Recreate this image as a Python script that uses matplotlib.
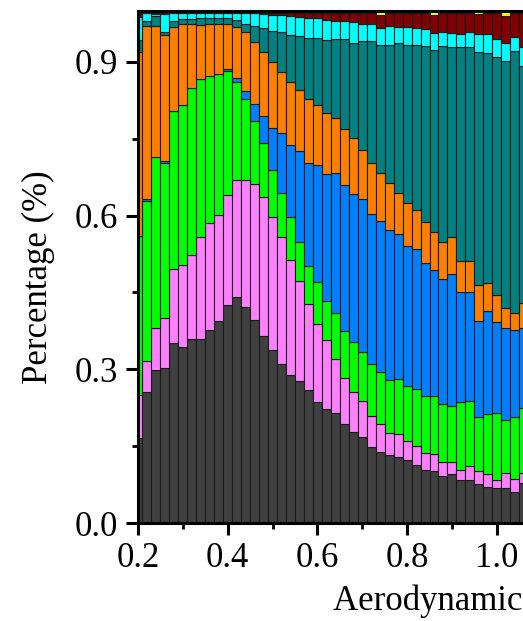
import numpy as np
import matplotlib
matplotlib.use("Agg")
import matplotlib.pyplot as plt
from matplotlib.ticker import MultipleLocator, FormatStrFormatter

# Particle size bins (aerodynamic diameter, µm) - bar centres
diameter = [0.20, 0.22, 0.24, 0.26, 0.28, 0.30, 0.32, 0.34, 0.36, 0.38,
            0.40, 0.42, 0.44, 0.46, 0.48, 0.50, 0.52, 0.54, 0.56, 0.58,
            0.60, 0.62, 0.64, 0.66, 0.68, 0.70, 0.72, 0.74, 0.76, 0.78,
            0.80, 0.82, 0.84, 0.86, 0.88, 0.90, 0.92, 0.94, 0.96, 0.98,
            1.00, 1.02, 1.04, 1.06]

# Upper boundary (cumulative fraction) of each stacked component
gray_top = [0.165, 0.255, 0.298, 0.303, 0.352, 0.343, 0.360, 0.360, 0.377, 0.394,
            0.426, 0.441, 0.421, 0.396, 0.365, 0.337, 0.310, 0.289, 0.278, 0.259,
            0.237, 0.222, 0.215, 0.193, 0.178, 0.167, 0.149, 0.138, 0.132, 0.128,
            0.122, 0.113, 0.103, 0.102, 0.092, 0.096, 0.084, 0.084, 0.077, 0.071,
            0.069, 0.068, 0.060, 0.079]
pink_top = [0.250, 0.317, 0.380, 0.400, 0.495, 0.503, 0.523, 0.559, 0.586, 0.601,
            0.640, 0.670, 0.670, 0.661, 0.636, 0.597, 0.558, 0.513, 0.472, 0.427,
            0.389, 0.357, 0.321, 0.284, 0.256, 0.238, 0.208, 0.193, 0.176, 0.173,
            0.160, 0.151, 0.137, 0.134, 0.120, 0.120, 0.103, 0.111, 0.102, 0.096,
            0.084, 0.098, 0.085, 0.098]
green_top = [0.560, 0.628, 0.715, 0.702, 0.804, 0.816, 0.849, 0.866, 0.873, 0.876,
             0.883, 0.861, 0.828, 0.785, 0.742, 0.690, 0.645, 0.598, 0.549, 0.502,
             0.470, 0.433, 0.409, 0.375, 0.353, 0.334, 0.310, 0.295, 0.280, 0.282,
             0.268, 0.262, 0.248, 0.248, 0.232, 0.229, 0.236, 0.239, 0.207, 0.212,
             0.214, 0.201, 0.206, 0.225]
blue_top = [0.560, 0.632, 0.715, 0.707, 0.804, 0.816, 0.849, 0.866, 0.873, 0.876,
            0.886, 0.869, 0.843, 0.818, 0.794, 0.772, 0.761, 0.738, 0.726, 0.702,
            0.699, 0.682, 0.683, 0.659, 0.642, 0.632, 0.603, 0.589, 0.571, 0.564,
            0.541, 0.535, 0.507, 0.494, 0.476, 0.487, 0.450, 0.450, 0.395, 0.413,
            0.392, 0.381, 0.377, 0.380]
orange_top = [0.920, 0.970, 0.970, 0.953, 0.969, 0.975, 0.975, 0.972, 0.974, 0.974,
              0.974, 0.969, 0.958, 0.938, 0.920, 0.900, 0.880, 0.860, 0.845, 0.828,
              0.815, 0.800, 0.790, 0.770, 0.751, 0.728, 0.702, 0.684, 0.663, 0.645,
              0.624, 0.610, 0.588, 0.569, 0.549, 0.559, 0.512, 0.512, 0.465, 0.468,
              0.445, 0.420, 0.410, 0.429]
teal_top = [0.943, 0.980, 0.990, 0.959, 0.979, 0.984, 0.984, 0.985, 0.985, 0.985,
            0.985, 0.982, 0.975, 0.970, 0.967, 0.960, 0.958, 0.953, 0.951, 0.947,
            0.946, 0.943, 0.944, 0.944, 0.936, 0.940, 0.940, 0.933, 0.934, 0.936,
            0.933, 0.934, 0.931, 0.923, 0.931, 0.930, 0.929, 0.929, 0.919, 0.917,
            0.910, 0.902, 0.921, 0.893]
cyan_top = [0.988, 0.995, 0.993, 0.994, 0.995, 0.995, 0.996, 0.996, 0.996, 0.996,
            0.996, 0.995, 0.995, 0.995, 0.994, 0.992, 0.992, 0.990, 0.988, 0.985,
            0.985, 0.982, 0.979, 0.979, 0.977, 0.974, 0.974, 0.966, 0.971, 0.968,
            0.968, 0.966, 0.964, 0.956, 0.958, 0.957, 0.954, 0.959, 0.954, 0.954,
            0.944, 0.936, 0.949, 0.930]
darkred_top = [0.995, 0.997, 0.995, 0.995, 0.997, 0.997, 0.997, 0.997, 0.997, 0.997,
               0.997, 0.997, 0.997, 0.996, 0.996, 0.996, 0.996, 0.996, 0.996, 0.996,
               0.996, 0.996, 0.996, 0.996, 0.996, 0.996, 0.996, 0.992, 0.996, 0.996,
               0.996, 0.995, 0.996, 0.992, 0.996, 0.995, 0.996, 0.995, 0.994, 0.995,
               0.996, 0.990, 0.995, 0.995]
yellow_top = [1.0] * len(diameter)

y_ticks = [0.0, 0.3, 0.6, 0.9]
x_ticks = [0.2, 0.4, 0.6, 0.8, 1.0, 1.2, 1.4, 1.6, 1.8, 2.0]

tops = [gray_top, pink_top, green_top, blue_top, orange_top,
        teal_top, cyan_top, darkred_top, yellow_top]
colors = ['#404040', '#FF80FF', '#00FF00', '#0080FF', '#FF8000',
          '#008080', '#00FFFF', '#800000', '#FFFF00']

plt.rcParams['font.family'] = ['Liberation Serif', 'DejaVu Serif']
plt.rcParams['mathtext.fontset'] = 'stix'

W, H = 523, 621
fig = plt.figure(figsize=(W / 100, H / 100), dpi=100)
x_min, x_max = 0.2, 2.0
px_per_unit = 448.5
ax_w_px = (x_max - x_min) * px_per_unit
ax = fig.add_axes([138 / W, (H - 523) / H, ax_w_px / W, 512.3 / H])

bottom = np.zeros(len(diameter))
for top, c in zip(tops, colors):
    top = np.asarray(top)
    ax.bar(diameter, top - bottom, bottom=bottom, width=0.02, color=c,
           edgecolor='#1a1a1a', linewidth=0.8, align='center')
    bottom = top

ax.set_xlim(x_min, x_max)
ax.set_ylim(0, 1.0)
ax.set_xticks(x_ticks)
ax.set_yticks(y_ticks)
ax.xaxis.set_minor_locator(MultipleLocator(0.1))
ax.yaxis.set_minor_locator(MultipleLocator(0.15))
ax.xaxis.set_major_formatter(FormatStrFormatter('%.1f'))
ax.yaxis.set_major_formatter(FormatStrFormatter('%.1f'))

for s in ax.spines.values():
    s.set_linewidth(2.2)
ax.tick_params(which='major', direction='out', length=8.6, width=2.2,
               labelsize=25, pad=5)
ax.tick_params(which='minor', direction='out', length=4.5, width=2.0)
ax.tick_params(axis='y', which='major', pad=6)

ax.set_ylabel('Percentage (%)', fontsize=25)
ax.yaxis.label.set_va('center')
ax.yaxis.set_label_coords((38 - 138) / ax_w_px, 0.48)

ax.set_xlabel('Aerodynamic diameter (μm)', fontsize=25)
ax.xaxis.label.set_ha('left')
ax.xaxis.label.set_va('baseline')
ax.xaxis.set_label_coords((333 - 138) / ax_w_px, (523 - 610) / 512.3)

fig.savefig('out.png', dpi=100)
